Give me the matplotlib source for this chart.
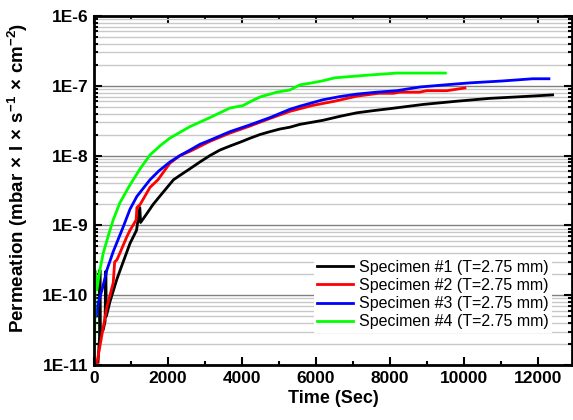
import matplotlib
matplotlib.use("Agg")
import matplotlib.pyplot as plt
from matplotlib.ticker import LogLocator, MultipleLocator, NullFormatter

plt.rcParams['font.family'] = ['Liberation Sans', 'DejaVu Sans']
plt.rcParams['mathtext.fontset'] = 'custom'
plt.rcParams['mathtext.rm'] = 'Liberation Sans:bold'
plt.rcParams['mathtext.it'] = 'Liberation Sans:bold'
plt.rcParams['mathtext.bf'] = 'Liberation Sans:bold'

labels = ["Specimen #1 (T=2.75 mm)", "Specimen #2 (T=2.75 mm)",
          "Specimen #3 (T=2.75 mm)", "Specimen #4 (T=2.75 mm)"]
colors = ["#000000", "#ff0000", "#0000ff", "#00ff00"]

t1 = [110, 150, 160, 175, 250, 300, 320, 335, 430, 620, 790, 973, 1150, 1240, 1260, 1400,
      1600, 1850, 2150, 2324, 2600, 2865, 3135, 3405, 3676, 3946, 4216, 4486, 4757, 5027,
      5297, 5568, 5892, 6190, 6650, 7108, 7550, 8000, 8900, 9800, 10700, 11600, 12400]
v1 = [1.1e-11, 2.5e-11, 2.3e-10, 2.8e-11, 3.2e-11, 4.2e-11, 2.2e-10, 5e-11, 8e-11, 1.7e-10,
      3e-10, 5.5e-10, 8.5e-10, 1.8e-9, 1.1e-9, 1.4e-9, 2.0e-9, 2.9e-9, 4.5e-9, 5.2e-9, 6.5e-9,
      8.1e-9, 1.0e-8, 1.2e-8, 1.37e-8, 1.55e-8, 1.77e-8, 2.0e-8, 2.2e-8, 2.4e-8, 2.55e-8,
      2.8e-8, 3.0e-8, 3.2e-8, 3.65e-8, 4.1e-8, 4.4e-8, 4.7e-8, 5.4e-8, 6.0e-8, 6.6e-8,
      7.0e-8, 7.4e-8]

t2 = [50, 70, 220, 350, 520, 560, 620, 700, 890, 973, 1100, 1140, 1160, 1250, 1514, 1730,
      2054, 2324, 2595, 3135, 3676, 4216, 4757, 5297, 5892, 6500, 7108, 7700, 8100, 8270,
      8800, 9000, 9540, 10030]
v2 = [1e-11, 1e-11, 2.8e-11, 6.8e-11, 1.5e-10, 3e-10, 3.2e-10, 4e-10, 6.9e-10, 8.5e-10,
      1.1e-9, 1.2e-9, 1.8e-9, 2.0e-9, 3.5e-9, 4.5e-9, 7.8e-9, 1.0e-8, 1.15e-8, 1.6e-8,
      2.1e-8, 2.65e-8, 3.4e-8, 4.3e-8, 5.2e-8, 6.0e-8, 7.1e-8, 7.8e-8, 7.8e-8, 8.1e-8,
      8.1e-8, 8.5e-8, 8.5e-8, 9.3e-8]

t3 = [60, 120, 220, 350, 520, 790, 973, 1160, 1514, 1750, 2054, 2324, 2595, 2865, 3135, 3676,
      4216, 4757, 5297, 5568, 6190, 6650, 7108, 7650, 8189, 8811, 9486, 10162, 11030, 11860,
      12300]
v3 = [5e-11, 8e-11, 1.2e-10, 2.3e-10, 4.2e-10, 9.5e-10, 1.7e-9, 2.6e-9, 4.5e-9, 6.0e-9,
      8.1e-9, 1.0e-8, 1.2e-8, 1.45e-8, 1.66e-8, 2.2e-8, 2.75e-8, 3.5e-8, 4.6e-8, 5.1e-8,
      6.3e-8, 7.0e-8, 7.6e-8, 8.1e-8, 8.5e-8, 9.6e-8, 1.03e-7, 1.1e-7, 1.17e-7, 1.26e-7,
      1.26e-7]

t4 = [20, 30, 45, 60, 80, 160, 250, 380, 520, 700, 973, 1250, 1514, 1800, 2054, 2595, 3135,
      3676, 4027, 4250, 4486, 4946, 5297, 5568, 5892, 6162, 6514, 7405, 8189, 9500]
v4 = [2e-11, 1.5e-10, 2.2e-10, 1.2e-10, 1.2e-10, 2.3e-10, 4e-10, 6.9e-10, 1.2e-9, 2.1e-9,
      3.8e-9, 6.5e-9, 1.02e-8, 1.4e-8, 1.78e-8, 2.6e-8, 3.5e-8, 4.8e-8, 5.2e-8, 6.0e-8,
      6.9e-8, 8.1e-8, 8.7e-8, 1.03e-7, 1.1e-7, 1.17e-7, 1.3e-7, 1.42e-7, 1.52e-7, 1.52e-7]

x_ticks = [0, 2000, 4000, 6000, 8000, 10000, 12000]
y_ticks = [1e-11, 1e-10, 1e-9, 1e-8, 1e-7, 1e-6]
y_ticklabels = ["1E-11", "1E-10", "1E-9", "1E-8", "1E-7", "1E-6"]

fig = plt.figure(figsize=(5.73, 4.2), dpi=100)
ax = fig.add_axes([0.164, 0.131, 0.834, 0.831])
ax.set_yscale('log')
ax.set_xlim(0, 12920)
ax.set_ylim(1e-11, 1e-6)

ax.yaxis.set_minor_locator(LogLocator(base=10, subs=range(2, 10), numticks=20))
ax.grid(True, which='minor', axis='y', color='#c8c8c8', linewidth=1.0, zorder=0)
ax.grid(True, which='major', axis='y', color='#808080', linewidth=1.0, zorder=0)
ax.set_axisbelow(True)

for t, v, c, l in zip([t1, t2, t3, t4], [v1, v2, v3, v4], colors, labels):
    ax.plot(t, v, color=c, lw=2.0, label=l)

ax.set_xticks(x_ticks)
ax.set_xticklabels([str(x) for x in x_ticks])
ax.xaxis.set_minor_locator(MultipleLocator(1000))
ax.set_yticks(y_ticks)
ax.set_yticklabels(y_ticklabels)
ax.yaxis.set_minor_formatter(NullFormatter())

ax.tick_params(which='major', direction='in', length=6, width=1.5, top=True, right=True,
               labelsize=12.5, pad=4)
ax.tick_params(which='minor', direction='in', length=3, width=1.5, top=True, right=True)
for lab in ax.get_xticklabels() + ax.get_yticklabels():
    lab.set_fontweight('bold')
for s in ax.spines.values():
    s.set_linewidth(2.0)

ax.set_xlabel("Time (Sec)", fontsize=13, fontweight='bold', labelpad=3)
ax.set_ylabel(r"Permeation (mbar$\,\times\,$l$\,\times\,$s$^{-1}\,\times\,$cm$^{-2}$)",
              fontsize=13.5, fontweight='bold')
ax.yaxis.set_label_coords(-0.134, 0.535)

leg = ax.legend(loc='lower right', bbox_to_anchor=(0.975, 0.07), fontsize=11.5,
                frameon=True, fancybox=False, edgecolor='none', facecolor='white',
                framealpha=1.0, handlelength=2.25, handletextpad=0.35, labelspacing=0.2,
                borderpad=0.2)

fig.savefig("out.png", dpi=100)
